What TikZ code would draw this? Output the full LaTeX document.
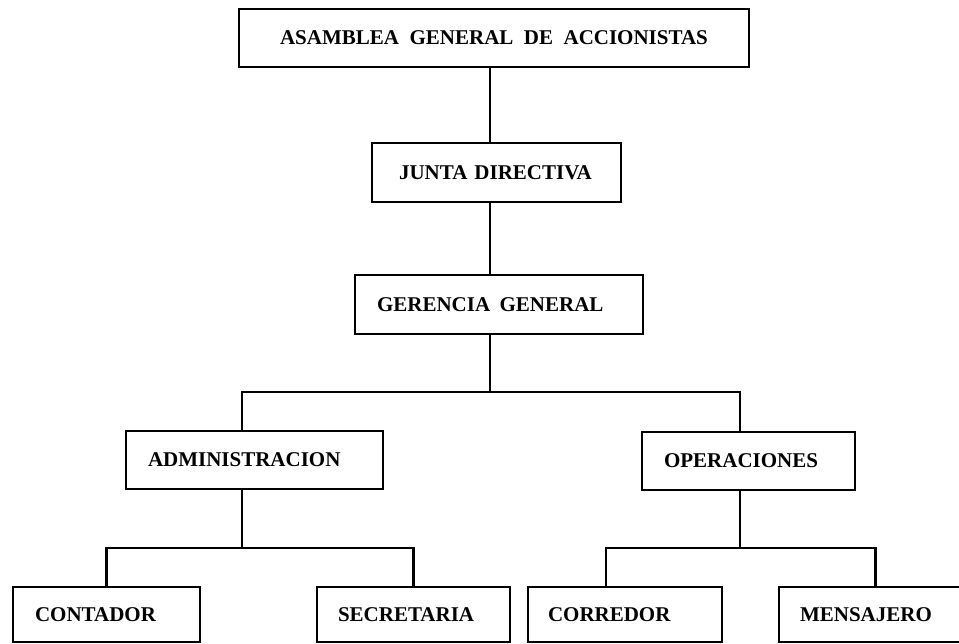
\documentclass[tikz,border=0pt]{standalone}
\usepackage{fontspec}
\setmainfont{Liberation Serif}
\begin{document}
\begin{tikzpicture}[x=1pt, y=-1pt,
  box/.style={draw, line width=2.8pt, outer sep=0pt, anchor=north west,
    font=\fontsize{21}{24}\selectfont\bfseries, align=left},
  link/.style={line width=2.8pt, line join=miter}]
\useasboundingbox (0,0) rectangle (959,644);
\clip (0,0) rectangle (959,644);

% top chain
\node[box, align=center, minimum width=510pt, minimum height=58pt, text width=470pt, inner xsep=20pt]
  (asam) at (239,9) {ASAMBLEA\hspace{0.5em}GENERAL\hspace{0.5em}DE\hspace{0.5em}ACCIONISTAS};
\node[box, minimum width=249pt, minimum height=59pt, text width=195pt, inner xsep=27pt]
  (junta) at (372,143) {JUNTA DIRECTIVA};
\node[box, minimum width=288pt, minimum height=59pt, text width=244pt, inner xsep=22pt]
  (ger) at (355,275) {GERENCIA\hspace{0.45em}GENERAL};

% departments
\node[box, minimum width=257pt, minimum height=58pt, text width=213pt, inner xsep=22pt]
  (admin) at (126,431) {ADMINISTRACION};
\node[box, minimum width=213pt, minimum height=58pt, text width=169pt, inner xsep=22pt]
  (op) at (642,432) {OPERACIONES};

% staff
\node[box, minimum width=187pt, minimum height=55pt, text width=143pt, inner xsep=22pt]
  (cont) at (13,587) {CONTADOR};
\node[box, minimum width=193pt, minimum height=55pt, text width=151pt, inner xsep=21pt]
  (secr) at (317,587) {SECRETARIA};
\node[box, minimum width=194pt, minimum height=55pt, text width=154pt, inner xsep=20pt]
  (corr) at (528,587) {CORREDOR};
\node[box, minimum width=191pt, minimum height=55pt, text width=149pt, inner xsep=21pt]
  (mens) at (779,587) {MENSAJERO};

% junction points of the branch lines
\coordinate (t1) at (490,392);
\coordinate (t2) at (242,548);
\coordinate (t3) at (740,548);

\draw[link] (asam.south -| t1) -- (junta.north -| t1);
\draw[link] (junta.south -| t1) -- (ger.north -| t1);
\draw[link] (ger.south -| t1) -- (t1);
\draw[link] (t1) -| (admin.north -| t2);
\draw[link] (t1) -| (op.north -| t3);
\draw[link] (admin.south -| t2) -- (t2);
\draw[link] (op.south -| t3) -- (t3);
\draw[link] (t2) -| (cont.north);
\draw[link] (t2) -| (secr.north);
\draw[link] (t3) -| ([xshift=-19pt]corr.north);
\draw[link] (t3) -| ([xshift=1pt]mens.north);
\end{tikzpicture}
\end{document}
